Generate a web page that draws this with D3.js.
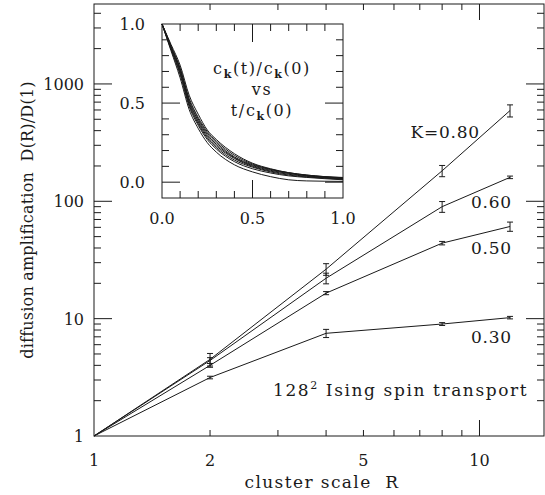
<!DOCTYPE html>
<html><head><meta charset="utf-8">
<script src="https://cdn.jsdelivr.net/npm/d3@7/dist/d3.min.js"></script>
<style>
body{margin:0;background:#fff;}
text{font-family:"DejaVu Serif",serif;fill:#1a1a1a;}
</style></head>
<body><svg id="c" width="545" height="495"></svg>
<script>
// ---- main chart data ----
const clusterR = [1, 2, 4, 8, 12];
const kLabels = ["K=0.80", "0.60", "0.50", "0.30"];
const d080 = [1, 4.5, 26.4, 182, 593];
const e080 = [0, 0.55, 3.0, 20, 70];
const d060 = [1, 4.4, 22.1, 90, 160];
const e060 = [0, 0.25, 2.3, 9.5, 4];
const d050 = [1, 4.0, 16.5, 44, 61];
const e050 = [0, 0.15, 0.5, 1.5, 5.5];
const d030 = [1, 3.15, 7.5, 9.0, 10.2];
const e030 = [0, 0.08, 0.6, 0.25, 0.25];
const xTickLabels = [1, 2, 5, 10];
const yTickLabels = [1, 10, 100, 1000];

// ---- inset data: c_k(t)/c_k(0) vs t/c_k(0) ----
const insetT = [0, 0.05, 0.1, 0.15, 0.2, 0.25, 0.3, 0.4, 0.5, 0.6, 0.7, 0.8, 0.9, 1.0];
const c1 = [1, 0.87, 0.74, 0.55, 0.43, 0.33, 0.27, 0.18, 0.12, 0.085, 0.06, 0.045, 0.035, 0.028];
const c2 = [1, 0.86, 0.72, 0.52, 0.40, 0.31, 0.25, 0.16, 0.11, 0.08, 0.058, 0.043, 0.033, 0.025];
const c3 = [1, 0.85, 0.71, 0.51, 0.39, 0.30, 0.24, 0.155, 0.105, 0.075, 0.055, 0.04, 0.03, 0.022];
const c4 = [1, 0.85, 0.70, 0.50, 0.38, 0.29, 0.23, 0.15, 0.10, 0.07, 0.05, 0.037, 0.028, 0.02];
const c5 = [1, 0.84, 0.69, 0.49, 0.37, 0.28, 0.22, 0.14, 0.095, 0.065, 0.045, 0.033, 0.025, 0.018];
const c6 = [1, 0.84, 0.68, 0.48, 0.36, 0.27, 0.21, 0.13, 0.085, 0.058, 0.04, 0.03, 0.022, 0.015];
const c7 = [1, 0.83, 0.66, 0.46, 0.34, 0.25, 0.19, 0.11, 0.065, 0.035, 0.015, 0.008, 0.006, 0.005];
const c8 = [1, 0.86, 0.72, 0.53, 0.41, 0.32, 0.26, 0.17, 0.115, 0.082, 0.06, 0.045, 0.035, 0.03];
const insetTicks = [0, 0.5, 1.0];

const svg = d3.select("#c");
const ink = "#1a1a1a";

// ---- main scales ----
const x = d3.scaleLog().domain([1, 14.7]).range([94, 544]);
const y = d3.scaleLog().domain([1, 4800]).range([436, 4]);

// frame
svg.append("rect").attr("x", 94).attr("y", 4).attr("width", 450).attr("height", 432)
  .attr("fill", "none").attr("stroke", ink).attr("stroke-width", 1);

function minors(lo, hi) {
  const out = [];
  for (let d = 1; d <= 1e4; d *= 10) for (let m = 2; m <= 9; m++) {
    const v = m * d; if (v > lo && v < hi) out.push(v);
  }
  return out;
}
const xMinor = minors(1, 14.7), yMinor = minors(1, 4800);
const xMajor = [10], yMajor = [10, 100, 1000];
const tk = svg.append("g").attr("stroke", ink).attr("stroke-width", 1);
xMinor.forEach(v => {
  tk.append("line").attr("x1", x(v)).attr("x2", x(v)).attr("y1", 436).attr("y2", 430);
  tk.append("line").attr("x1", x(v)).attr("x2", x(v)).attr("y1", 4).attr("y2", 10);
});
xMajor.forEach(v => {
  tk.append("line").attr("x1", x(v)).attr("x2", x(v)).attr("y1", 436).attr("y2", 420);
  tk.append("line").attr("x1", x(v)).attr("x2", x(v)).attr("y1", 4).attr("y2", 20);
});
yMinor.forEach(v => {
  tk.append("line").attr("x1", 94).attr("x2", 101).attr("y1", y(v)).attr("y2", y(v));
  tk.append("line").attr("x1", 544).attr("x2", 537).attr("y1", y(v)).attr("y2", y(v));
});
yMajor.forEach(v => {
  tk.append("line").attr("x1", 94).attr("x2", 112).attr("y1", y(v)).attr("y2", y(v));
  tk.append("line").attr("x1", 544).attr("x2", 526).attr("y1", y(v)).attr("y2", y(v));
});

// tick labels
svg.append("g").selectAll("text").data(xTickLabels).join("text")
  .attr("x", d => x(d)).attr("y", 466).attr("text-anchor", "middle")
  .attr("font-size", 16).text(d => d);
svg.append("g").selectAll("text").data(yTickLabels).join("text")
  .attr("x", 84).attr("y", d => y(d) + 6).attr("text-anchor", "end")
  .attr("font-size", 16).text(d => d);

// axis titles
svg.append("text").attr("x", 322).attr("y", 488).attr("text-anchor", "middle")
  .attr("font-size", 17).attr("letter-spacing", 1.4)
  .text("cluster scale\u00a0\u00a0R");
svg.append("text").attr("transform", "translate(33,220) rotate(-90)")
  .attr("text-anchor", "middle").attr("font-size", 16).attr("letter-spacing", 0.2)
  .text("diffusion amplification\u00a0\u00a0D(R)/D(1)");

// series
const series = [
  {d: d080, e: e080, label: kLabels[0], lx: 480, ly: 138},
  {d: d060, e: e060, label: kLabels[1], lx: 512, ly: 208},
  {d: d050, e: e050, label: kLabels[2], lx: 512, ly: 254},
  {d: d030, e: e030, label: kLabels[3], lx: 512, ly: 343}
];
const line = d3.line().x((d, i) => x(clusterR[i])).y(d => y(d));
series.forEach(s => {
  svg.append("path").attr("d", line(s.d)).attr("fill", "none")
    .attr("stroke", ink).attr("stroke-width", 1);
  const g = svg.append("g").attr("stroke", ink).attr("stroke-width", 1);
  s.d.forEach((v, i) => {
    if (s.e[i] <= 0) return;
    const cx = x(clusterR[i]), y1 = y(v + s.e[i]), y2 = y(v - s.e[i]);
    g.append("line").attr("x1", cx).attr("x2", cx).attr("y1", y1).attr("y2", y2);
    g.append("line").attr("x1", cx - 3).attr("x2", cx + 3).attr("y1", y1).attr("y2", y1);
    g.append("line").attr("x1", cx - 3).attr("x2", cx + 3).attr("y1", y2).attr("y2", y2);
  });
  svg.append("text").attr("x", s.lx).attr("y", s.ly).attr("text-anchor", "end")
    .attr("font-size", 17).attr("letter-spacing", 0.8).text(s.label);
});

// annotation
const ann = svg.append("text").attr("x", 273).attr("y", 396).attr("font-size", 17)
  .attr("letter-spacing", 1.6);
ann.append("tspan").text("128");
ann.append("tspan").attr("dy", -7).attr("font-size", 11).text("2");
ann.append("tspan").attr("dy", 7).text("\u00a0Ising spin transport");

// ---- inset ----
const ix = d3.scaleLinear().domain([0, 1]).range([162, 343]);
const iy = d3.scaleLinear().domain([-0.1, 1.0]).range([198, 24]);
const ins = svg.append("g");
ins.append("rect").attr("x", 162).attr("y", 24).attr("width", 181).attr("height", 174)
  .attr("fill", "#fff").attr("stroke", ink).attr("stroke-width", 1);
const itk = ins.append("g").attr("stroke", ink).attr("stroke-width", 1);
d3.range(0, 11).forEach(i => {
  const v = i / 10, major = (i % 5 === 0);
  const lx = major ? 18 : 7;
  if (i > 0 && i < 10) {
    itk.append("line").attr("x1", ix(v)).attr("x2", ix(v)).attr("y1", 198).attr("y2", 198 - lx);
    itk.append("line").attr("x1", ix(v)).attr("x2", ix(v)).attr("y1", 24).attr("y2", 24 + lx);
  }
  if (i < 10) {
    itk.append("line").attr("x1", 162).attr("x2", 162 + lx).attr("y1", iy(v)).attr("y2", iy(v));
    itk.append("line").attr("x1", 343).attr("x2", 343 - lx).attr("y1", iy(v)).attr("y2", iy(v));
  }
});
ins.append("g").selectAll("text").data(insetTicks).join("text")
  .attr("x", d => ix(d)).attr("y", 224).attr("text-anchor", "middle")
  .attr("font-size", 16).text(d => d.toFixed(1));
ins.append("g").selectAll("text").data(insetTicks).join("text")
  .attr("x", 145).attr("y", d => iy(d) + 6).attr("text-anchor", "end")
  .attr("font-size", 16).text(d => d.toFixed(1));

const iline = d3.line().x((d, i) => ix(insetT[i])).y(d => iy(d)).curve(d3.curveMonotoneX);
[c1, c2, c3, c4, c5, c6, c7, c8].forEach(c => {
  ins.append("path").attr("d", iline(c)).attr("fill", "none")
    .attr("stroke", ink).attr("stroke-width", 1);
});

// inset text
function ck(t, arg) {
  t.append("tspan").text("c");
  t.append("tspan").attr("dy", 4).attr("font-size", 11).attr("font-weight", "bold").text("k");
  t.append("tspan").attr("dy", -4).text(arg);
}
const t1 = ins.append("text").attr("x", 262).attr("y", 74).attr("text-anchor", "middle")
  .attr("font-size", 16).attr("letter-spacing", 1.6);
ck(t1, "(t)/");
ck(t1, "(0)");
ins.append("text").attr("x", 262).attr("y", 95).attr("text-anchor", "middle")
  .attr("font-size", 16).attr("letter-spacing", 1.6).text("vs");
const t3 = ins.append("text").attr("x", 262).attr("y", 116).attr("text-anchor", "middle")
  .attr("font-size", 16).attr("letter-spacing", 1.6);
t3.append("tspan").text("t/");
ck(t3, "(0)");
</script></body></html>
